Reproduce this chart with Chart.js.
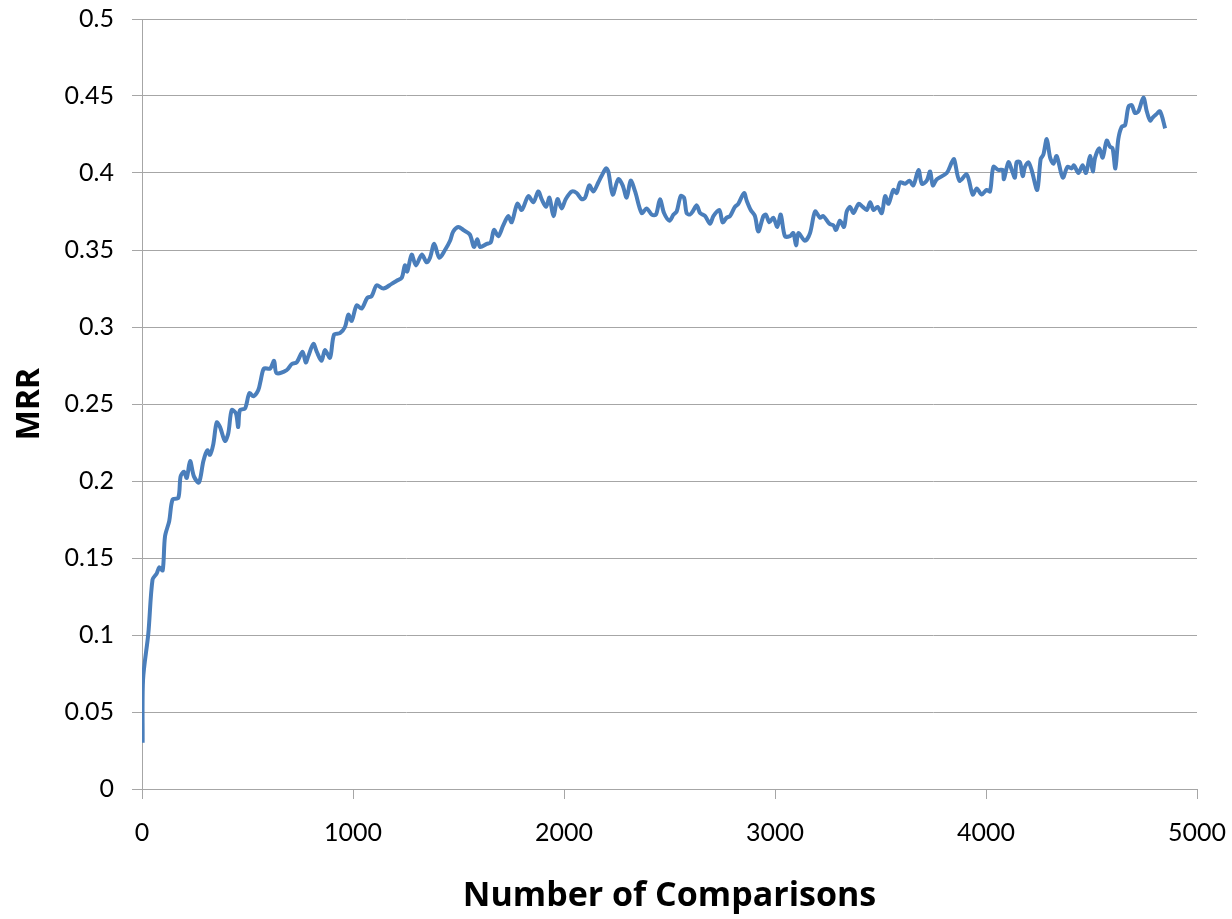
<!DOCTYPE html>
<html>
<head>
<meta charset="utf-8">
<script src="https://cdn.jsdelivr.net/npm/chart.js@4"></script>
<style>
  html, body { margin: 0; padding: 0; background: #fff; }
  canvas { display: block; }
</style>
</head>
<body>
<canvas id="mrrChart" width="1232" height="919"></canvas>
<script>
const comparisons = [
    3, 5, 30, 50, 70, 82, 98, 109, 129, 145, 172, 183, 199, 212, 228, 246, 270, 291, 310, 322,
    338, 354, 370, 393, 409, 425, 445, 456, 464, 488, 509, 528, 551, 562, 578, 607, 626, 638, 686, 710,
    733, 761, 776, 788, 812, 828, 851, 867, 891, 910, 938, 962, 978, 994, 1017, 1041, 1068, 1088, 1112, 1144,
    1183, 1207, 1231, 1246, 1257, 1278, 1298, 1326, 1349, 1365, 1385, 1409, 1436, 1460, 1475, 1499, 1523, 1554, 1573, 1589,
    1602, 1634, 1653, 1668, 1689, 1712, 1736, 1752, 1779, 1800, 1831, 1855, 1878, 1894, 1915, 1931, 1950, 1969, 1989, 2008,
    2037, 2060, 2084, 2100, 2120, 2139, 2163, 2178, 2199, 2210, 2231, 2257, 2278, 2297, 2316, 2337, 2368, 2392, 2416, 2436,
    2455, 2474, 2500, 2519, 2534, 2553, 2569, 2581, 2597, 2610, 2629, 2645, 2669, 2692, 2708, 2736, 2752, 2771, 2787, 2810,
    2826, 2853, 2866, 2885, 2905, 2921, 2945, 2957, 2973, 2992, 3011, 3027, 3047, 3071, 3087, 3100, 3111, 3142, 3166, 3190,
    3213, 3229, 3258, 3277, 3289, 3308, 3327, 3340, 3356, 3372, 3396, 3416, 3435, 3451, 3467, 3486, 3506, 3522, 3538, 3561,
    3577, 3593, 3617, 3637, 3656, 3680, 3696, 3719, 3735, 3748, 3767, 3814, 3838, 3849, 3874, 3909, 3937, 3956, 3979, 4003,
    4019, 4035, 4058, 4079, 4085, 4106, 4122, 4137, 4145, 4161, 4174, 4185, 4201, 4216, 4243, 4259, 4272, 4288, 4304, 4320,
    4335, 4364, 4386, 4406, 4417, 4438, 4458, 4474, 4493, 4506, 4517, 4537, 4553, 4572, 4588, 4600, 4613, 4627, 4643, 4659,
    4675, 4691, 4706, 4722, 4746, 4762, 4778, 4790, 4806, 4825, 4849
];
const mrr = [
    0.030, 0.071, 0.101, 0.136, 0.140, 0.144, 0.142, 0.164, 0.174, 0.188, 0.189, 0.203, 0.206, 0.202, 0.213, 0.203, 0.199, 0.213, 0.220, 0.217,
    0.224, 0.238, 0.235, 0.226, 0.231, 0.246, 0.244, 0.235, 0.246, 0.247, 0.257, 0.255, 0.259, 0.265, 0.273, 0.273, 0.278, 0.270, 0.272, 0.276,
    0.277, 0.284, 0.277, 0.281, 0.289, 0.284, 0.278, 0.285, 0.280, 0.295, 0.296, 0.300, 0.308, 0.304, 0.314, 0.312, 0.319, 0.320, 0.327, 0.325,
    0.328, 0.330, 0.332, 0.340, 0.336, 0.347, 0.340, 0.347, 0.342, 0.345, 0.354, 0.345, 0.350, 0.356, 0.362, 0.365, 0.363, 0.360, 0.352, 0.357,
    0.352, 0.354, 0.355, 0.363, 0.359, 0.366, 0.372, 0.368, 0.380, 0.376, 0.385, 0.381, 0.388, 0.383, 0.378, 0.384, 0.372, 0.383, 0.377, 0.383,
    0.388, 0.387, 0.383, 0.384, 0.392, 0.388, 0.394, 0.398, 0.403, 0.401, 0.386, 0.396, 0.392, 0.384, 0.395, 0.388, 0.374, 0.377, 0.373, 0.373,
    0.383, 0.374, 0.369, 0.373, 0.375, 0.385, 0.384, 0.374, 0.373, 0.375, 0.379, 0.374, 0.372, 0.367, 0.372, 0.376, 0.368, 0.371, 0.372, 0.378,
    0.380, 0.387, 0.382, 0.376, 0.372, 0.362, 0.372, 0.373, 0.368, 0.371, 0.365, 0.373, 0.359, 0.359, 0.361, 0.353, 0.361, 0.356, 0.361, 0.375,
    0.371, 0.372, 0.367, 0.366, 0.363, 0.369, 0.365, 0.375, 0.378, 0.374, 0.380, 0.378, 0.376, 0.381, 0.376, 0.378, 0.374, 0.385, 0.380, 0.389,
    0.387, 0.394, 0.393, 0.395, 0.392, 0.402, 0.393, 0.395, 0.401, 0.392, 0.396, 0.400, 0.407, 0.409, 0.395, 0.399, 0.386, 0.390, 0.386, 0.389,
    0.388, 0.404, 0.402, 0.402, 0.396, 0.407, 0.402, 0.397, 0.407, 0.407, 0.398, 0.404, 0.407, 0.402, 0.389, 0.409, 0.412, 0.422, 0.410, 0.406,
    0.411, 0.397, 0.404, 0.403, 0.405, 0.400, 0.405, 0.400, 0.411, 0.401, 0.410, 0.416, 0.410, 0.421, 0.417, 0.416, 0.403, 0.422, 0.430, 0.431,
    0.443, 0.444, 0.439, 0.440, 0.449, 0.440, 0.434, 0.436, 0.438, 0.440, 0.429
];
const xTicks = [0, 1000, 2000, 3000, 4000, 5000];
const yTicks = [0, 0.05, 0.1, 0.15, 0.2, 0.25, 0.3, 0.35, 0.4, 0.45, 0.5];

const FONT = 'Lato, "Open Sans", sans-serif';
const TITLE_FONT = '"Open Sans", Lato, sans-serif';
const GRID = '#a6a6a6';

const points = comparisons.map((c, i) => ({ x: c, y: mrr[i] }));

const ctx = document.getElementById('mrrChart').getContext('2d');
const chart = new Chart(ctx, {
    type: 'line',
    data: {
        datasets: [{
            label: 'MRR',
            data: points,
            borderColor: '#4a7ebb',
            borderWidth: 4,
            pointRadius: 0,
            tension: 0.3,
            fill: false
        }]
    },
    options: {
        responsive: false,
        animation: false,
        layout: { padding: { top: 19, right: 35, left: 0, bottom: 0 } },
        plugins: {
            legend: { display: false },
            tooltip: { enabled: false }
        },
        scales: {
            x: {
                type: 'linear',
                min: 0,
                max: 5000,
                afterBuildTicks: s => { s.ticks = xTicks.map(v => ({ value: v })); },
                afterFit: s => {
                    s.height = 130;
                    s.paddingLeft = 0;
                    s.paddingRight = 0;
                },
                ticks: {
                    color: '#000',
                    font: { family: FONT, size: 25 },
                    padding: 19,
                    maxRotation: 0,
                    callback: v => String(v)
                },
                grid: {
                    drawOnChartArea: false,
                    drawTicks: true,
                    tickLength: 10,
                    color: GRID
                },
                border: { color: GRID, width: 1 },
                title: {
                    display: true,
                    text: 'Number of Comparisons',
                    color: '#000',
                    font: { family: TITLE_FONT, size: 34, weight: 'bold' },
                    padding: { top: 0, bottom: 2 }
                }
            },
            y: {
                min: 0,
                max: 0.5,
                afterBuildTicks: s => { s.ticks = yTicks.map(v => ({ value: v })); },
                afterFit: s => {
                    s.width = 142;
                    s.paddingTop = 0;
                    s.paddingBottom = 0;
                },
                ticks: {
                    color: '#000',
                    font: { family: FONT, size: 25 },
                    padding: 18,
                    callback: v => String(Number(v.toFixed(2)))
                },
                grid: {
                    color: GRID,
                    lineWidth: 1,
                    drawTicks: true,
                    tickLength: 10
                },
                border: { color: GRID, width: 1 },
                title: {
                    display: true,
                    text: 'MRR',
                    color: '#000',
                    font: { family: TITLE_FONT, size: 32, weight: 'bold' },
                    padding: { top: 11, bottom: 0 }
                }
            }
        }
    }
});
</script>
</body>
</html>
